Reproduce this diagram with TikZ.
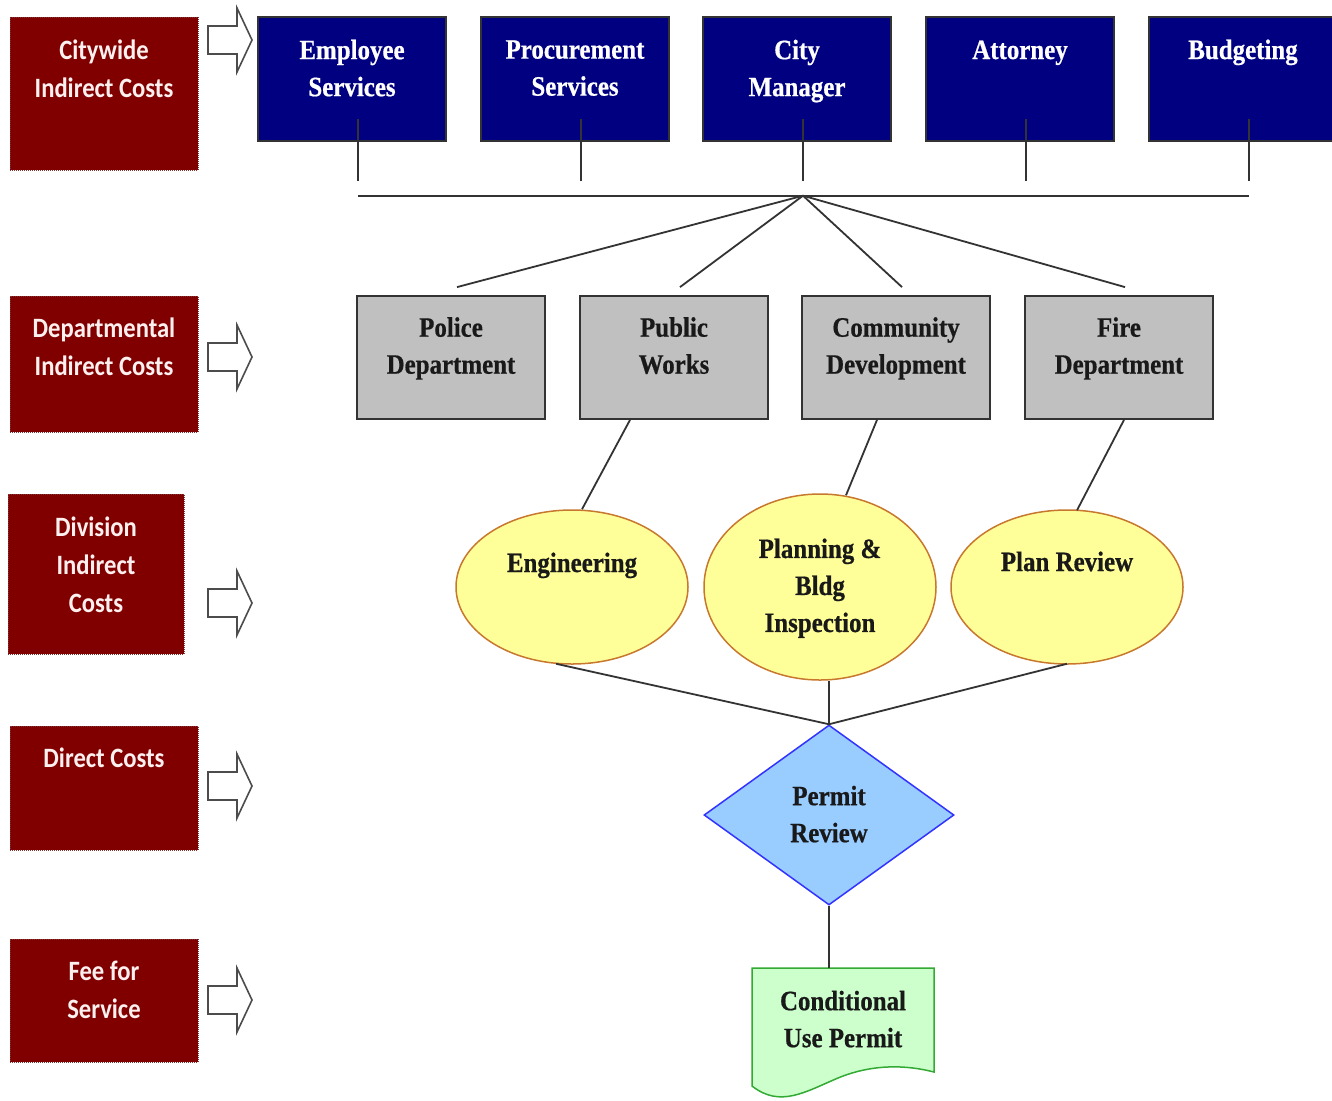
\documentclass[tikz,border=0pt]{standalone}
\usepackage{fontspec}
\setmainfont{Liberation Serif}[FakeStretch=0.89, BoldFeatures={FakeBold=0.6}]
\newfontfamily\leftfont{Carlito}[FakeStretch=0.88]
\usetikzlibrary{shapes.geometric,calc}
\definecolor{dred}{HTML}{800000}
\definecolor{navy}{HTML}{000080}
\definecolor{gbox}{HTML}{C0C0C0}
\definecolor{yel}{HTML}{FFFF99}
\definecolor{yelb}{HTML}{C8782E}
\definecolor{lblue}{HTML}{99CCFF}
\definecolor{dblue}{HTML}{3333FF}
\definecolor{lgreen}{HTML}{CCFFCC}
\definecolor{dgreen}{HTML}{33AA33}
\definecolor{lnk}{HTML}{333333}
\definecolor{ltxt}{HTML}{FFF0F0}
\tikzset{
  lbox/.style={fill=dred, draw=dred!60!gray, densely dotted, line width=1pt, inner sep=0pt},
  ltext/.style={text=ltxt, align=center, font=\leftfont\bfseries\fontsize{28}{38}\selectfont, inner sep=0pt,
    execute at begin node=\strut, execute at end node=\strut},
  bbox/.style={fill=navy, draw=black!80, line width=1.4pt, minimum width=188pt, minimum height=124pt, inner sep=0pt},
  btext/.style={text=white, align=center, font=\bfseries\fontsize{28}{37}\selectfont, inner sep=0pt,
    execute at begin node=\strut, execute at end node=\strut},
  gboxs/.style={fill=gbox, draw=lnk, line width=1.8pt, minimum width=188pt, minimum height=123pt, inner sep=0pt},
  dtext/.style={text=black!90, align=center, font=\bfseries\fontsize{28}{37}\selectfont, inner sep=0pt,
    execute at begin node=\strut, execute at end node=\strut},
  ell/.style={ellipse, fill=yel, draw=yelb, line width=1.5pt, minimum width=232pt, inner sep=0pt},
  dia/.style={diamond, fill=lblue, draw=dblue, line width=1.5pt, minimum width=250pt, minimum height=180pt, inner sep=0pt, aspect=1.39},
  conn/.style={draw=lnk, line width=1.8pt},
  hollow/.style={draw=black!70, fill=white, line width=1.6pt, line join=miter},
}
\begin{document}
\begin{tikzpicture}[x=1pt,y=-1pt]
\useasboundingbox (0,0) rectangle (1332,1100);
\fill[white] (0,0) rectangle (1332,1100);
% left column
\node[lbox, minimum width=188pt, minimum height=153pt] (L1) at (104,93.5) {};
\node[ltext] (L1t) at (104,74.5) {Citywide\\Indirect Costs};
\node[lbox, minimum width=188pt, minimum height=136pt] (L2) at (104,364) {};
\node[ltext] (L2t) at (104,352.5) {Departmental\\Indirect Costs};
\node[lbox, minimum width=176pt, minimum height=160pt] (L3) at (96,574) {};
\node[ltext] (L3t) at (96,570.5) {Division\\Indirect\\Costs};
\node[lbox, minimum width=188pt, minimum height=124pt] (L4) at (104,788) {};
\node[ltext] (L4t) at (104,759.6) {Direct Costs};
\node[lbox, minimum width=188pt, minimum height=123pt] (L5) at (104,1000.5) {};
\node[ltext] (L5t) at (104,995.5) {Fee for\\Service};
% hollow arrows
\foreach \yy in {40,357,603,786,1000}{
  \draw[hollow] (208,\yy-14) -- (237,\yy-14) -- (237,\yy-32) -- (252,\yy) -- (237,\yy+32) -- (237,\yy+14) -- (208,\yy+14) -- cycle;
}
% top blue boxes
\node[bbox] (es) at (352,79) {};
\node[btext] (es-t) at (352,73.5) {Employee\\Services};
\node[bbox] (ps) at (575,79) {};
\node[btext] (ps-t) at (575,73.5) {Procurement\\Services};
\node[bbox] (cm) at (797,79) {};
\node[btext] (cm-t) at (797,73.5) {City\\Manager};
\node[bbox] (at) at (1020,79) {};
\node[btext] (at-t) at (1020,51.6) {Attorney};
\node[bbox] (bu) at (1243,79) {};
\node[btext] (bu-t) at (1243,51.6) {Budgeting};
\foreach \n in {es,ps,cm,at,bu}{
  \draw[conn] ($(\n.south)+(6,-23)$) -- ($(\n.south)+(6,39)$);
}
\coordinate (busL) at ($(es.south)+(6,54)$);
\coordinate (busR) at ($(bu.south)+(6,54)$);
\coordinate (hub) at ($(cm.south)+(6,54)$);
\draw[conn] (busL) -- (busR);
% grey boxes
\node[gboxs] (pd) at (451,357.5) {};
\node[dtext] (pd-t) at (451,351) {Police\\Department};
\node[gboxs] (pw) at (674,357.5) {};
\node[dtext] (pw-t) at (674,351) {Public\\Works};
\node[gboxs] (cd) at (896,357.5) {};
\node[dtext] (cd-t) at (896,351) {Community\\Development};
\node[gboxs] (fd) at (1119,357.5) {};
\node[dtext] (fd-t) at (1119,351) {Fire\\Department};
\foreach \n in {pd,pw,cd,fd}{
  \draw[conn] (hub) -- ($(\n.north)+(6,-8)$);
}
% ellipses
\node[ell, minimum height=154pt] (eng) at (572,587) {};
\node[dtext] (eng-t) at (572,564.6) {Engineering};
\node[ell, minimum height=186pt] (plan) at (820,587) {};
\node[dtext] (plan-t) at (820,590.8) {Planning \&\\Bldg\\Inspection};
\node[ell, minimum height=154pt] (prv) at (1067,587) {};
\node[dtext] (prv-t) at (1067,563.6) {Plan Review};
\draw[conn] ($(pw.south)+(-44,0)$) -- ($(eng.north)+(10,0)$);
\draw[conn] ($(cd.south)+(-19,0)$) -- ($(plan.north)+(26,2)$);
\draw[conn] ($(fd.south)+(5,0)$) -- ($(prv.north)+(10,1)$);
% diamond
\node[dia] (pr) at (829,815) {};
\node[dtext] (pr-t) at (829,819.5) {Permit\\Review};
\draw[conn] ($(eng.south)+(-16,-1)$) -- (pr.north);
\draw[conn] (pr.north |- plan.south) -- (pr.north);
\draw[conn] ($(prv.south)+(0,-1)$) -- (pr.north);
% document
\coordinate (docT) at (829,968);
\draw[dgreen, fill=lgreen, line width=1.5pt, line join=miter]
  (752,968) -- (934,968) -- (934,1072)
  .. controls (895,1062) and (862,1068) .. (838,1078)
  .. controls (805,1092) and (780,1108) .. (752,1086) -- cycle;
\node[dtext] (doc) at (843,1024.5) {Conditional\\Use Permit};
\draw[conn] (pr.south) -- (docT);
\end{tikzpicture}
\end{document}
